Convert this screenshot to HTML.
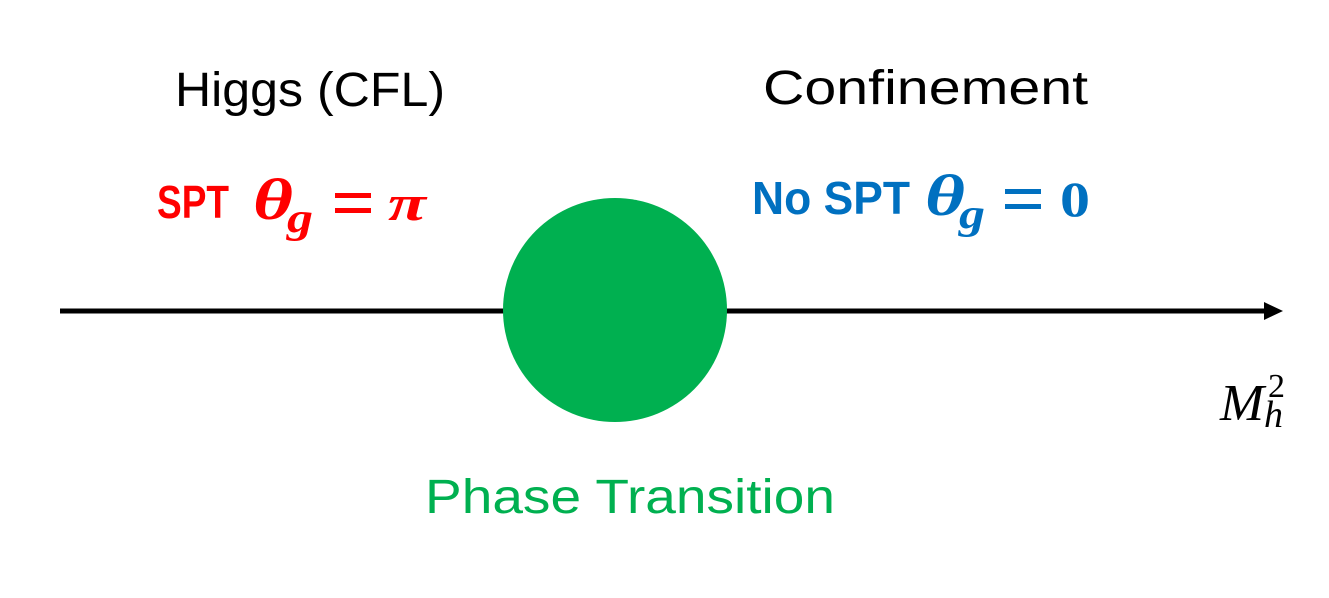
<!DOCTYPE html>
<html><head><meta charset="utf-8"><style>
html,body{margin:0;padding:0;background:#fff;}
svg{display:block;}
</style></head><body>
<svg width="1329" height="598" viewBox="0 0 1329 598" xmlns="http://www.w3.org/2000/svg">
<rect width="1329" height="598" fill="#fff"/>
<text x="175" y="106" font-family="Liberation Sans, sans-serif" font-size="48" fill="#000" textLength="270" lengthAdjust="spacingAndGlyphs">Higgs (CFL)</text>
<text x="763" y="104" font-family="Liberation Sans, sans-serif" font-size="48" fill="#000" textLength="325" lengthAdjust="spacingAndGlyphs">Confinement</text>
<g fill="#ff0000" font-weight="bold">
<text x="157" y="218" font-family="Liberation Sans, sans-serif" font-size="46" textLength="72" lengthAdjust="spacingAndGlyphs">SPT</text>
<text x="253" y="219" font-family="Liberation Serif, serif" font-style="italic" font-size="58" textLength="40" lengthAdjust="spacingAndGlyphs">θ</text>
<text x="287" y="232" font-family="Liberation Serif, serif" font-style="italic" font-size="42" textLength="26" lengthAdjust="spacingAndGlyphs">g</text>
<rect x="335" y="193" width="36" height="5"/>
<rect x="335" y="208" width="36" height="5"/>
<text x="388" y="220" font-family="Liberation Serif, serif" font-style="italic" font-size="50" textLength="38" lengthAdjust="spacingAndGlyphs">π</text>
</g>
<g fill="#0070c0" font-weight="bold">
<text x="752" y="214" font-family="Liberation Sans, sans-serif" font-size="46" textLength="158" lengthAdjust="spacingAndGlyphs">No SPT</text>
<text x="925" y="215" font-family="Liberation Serif, serif" font-style="italic" font-size="58" textLength="40" lengthAdjust="spacingAndGlyphs">θ</text>
<text x="959" y="228" font-family="Liberation Serif, serif" font-style="italic" font-size="42" textLength="26" lengthAdjust="spacingAndGlyphs">g</text>
<rect x="1005" y="189" width="36" height="5"/>
<rect x="1005" y="204" width="36" height="5"/>
<text x="1060" y="216" font-family="Liberation Serif, serif" font-size="50" textLength="30" lengthAdjust="spacingAndGlyphs">0</text>
</g>
<line x1="60" y1="311" x2="1268" y2="311" stroke="#000" stroke-width="5"/>
<polygon points="1283,311 1264,302 1264,320" fill="#000"/>
<circle cx="615" cy="310" r="112" fill="#00b050"/>
<text x="425" y="513" font-family="Liberation Sans, sans-serif" font-size="48" fill="#00b050" textLength="410" lengthAdjust="spacingAndGlyphs">Phase Transition</text>
<text x="1220" y="420" font-family="Liberation Serif, serif" font-style="italic" font-size="52" fill="#000" textLength="44" lengthAdjust="spacingAndGlyphs">M</text>
<text x="1264" y="427" font-family="Liberation Serif, serif" font-style="italic" font-size="38" fill="#000">h</text>
<text x="1268" y="397" font-family="Liberation Serif, serif" font-size="34" fill="#000">2</text>
</svg>
</body></html>
